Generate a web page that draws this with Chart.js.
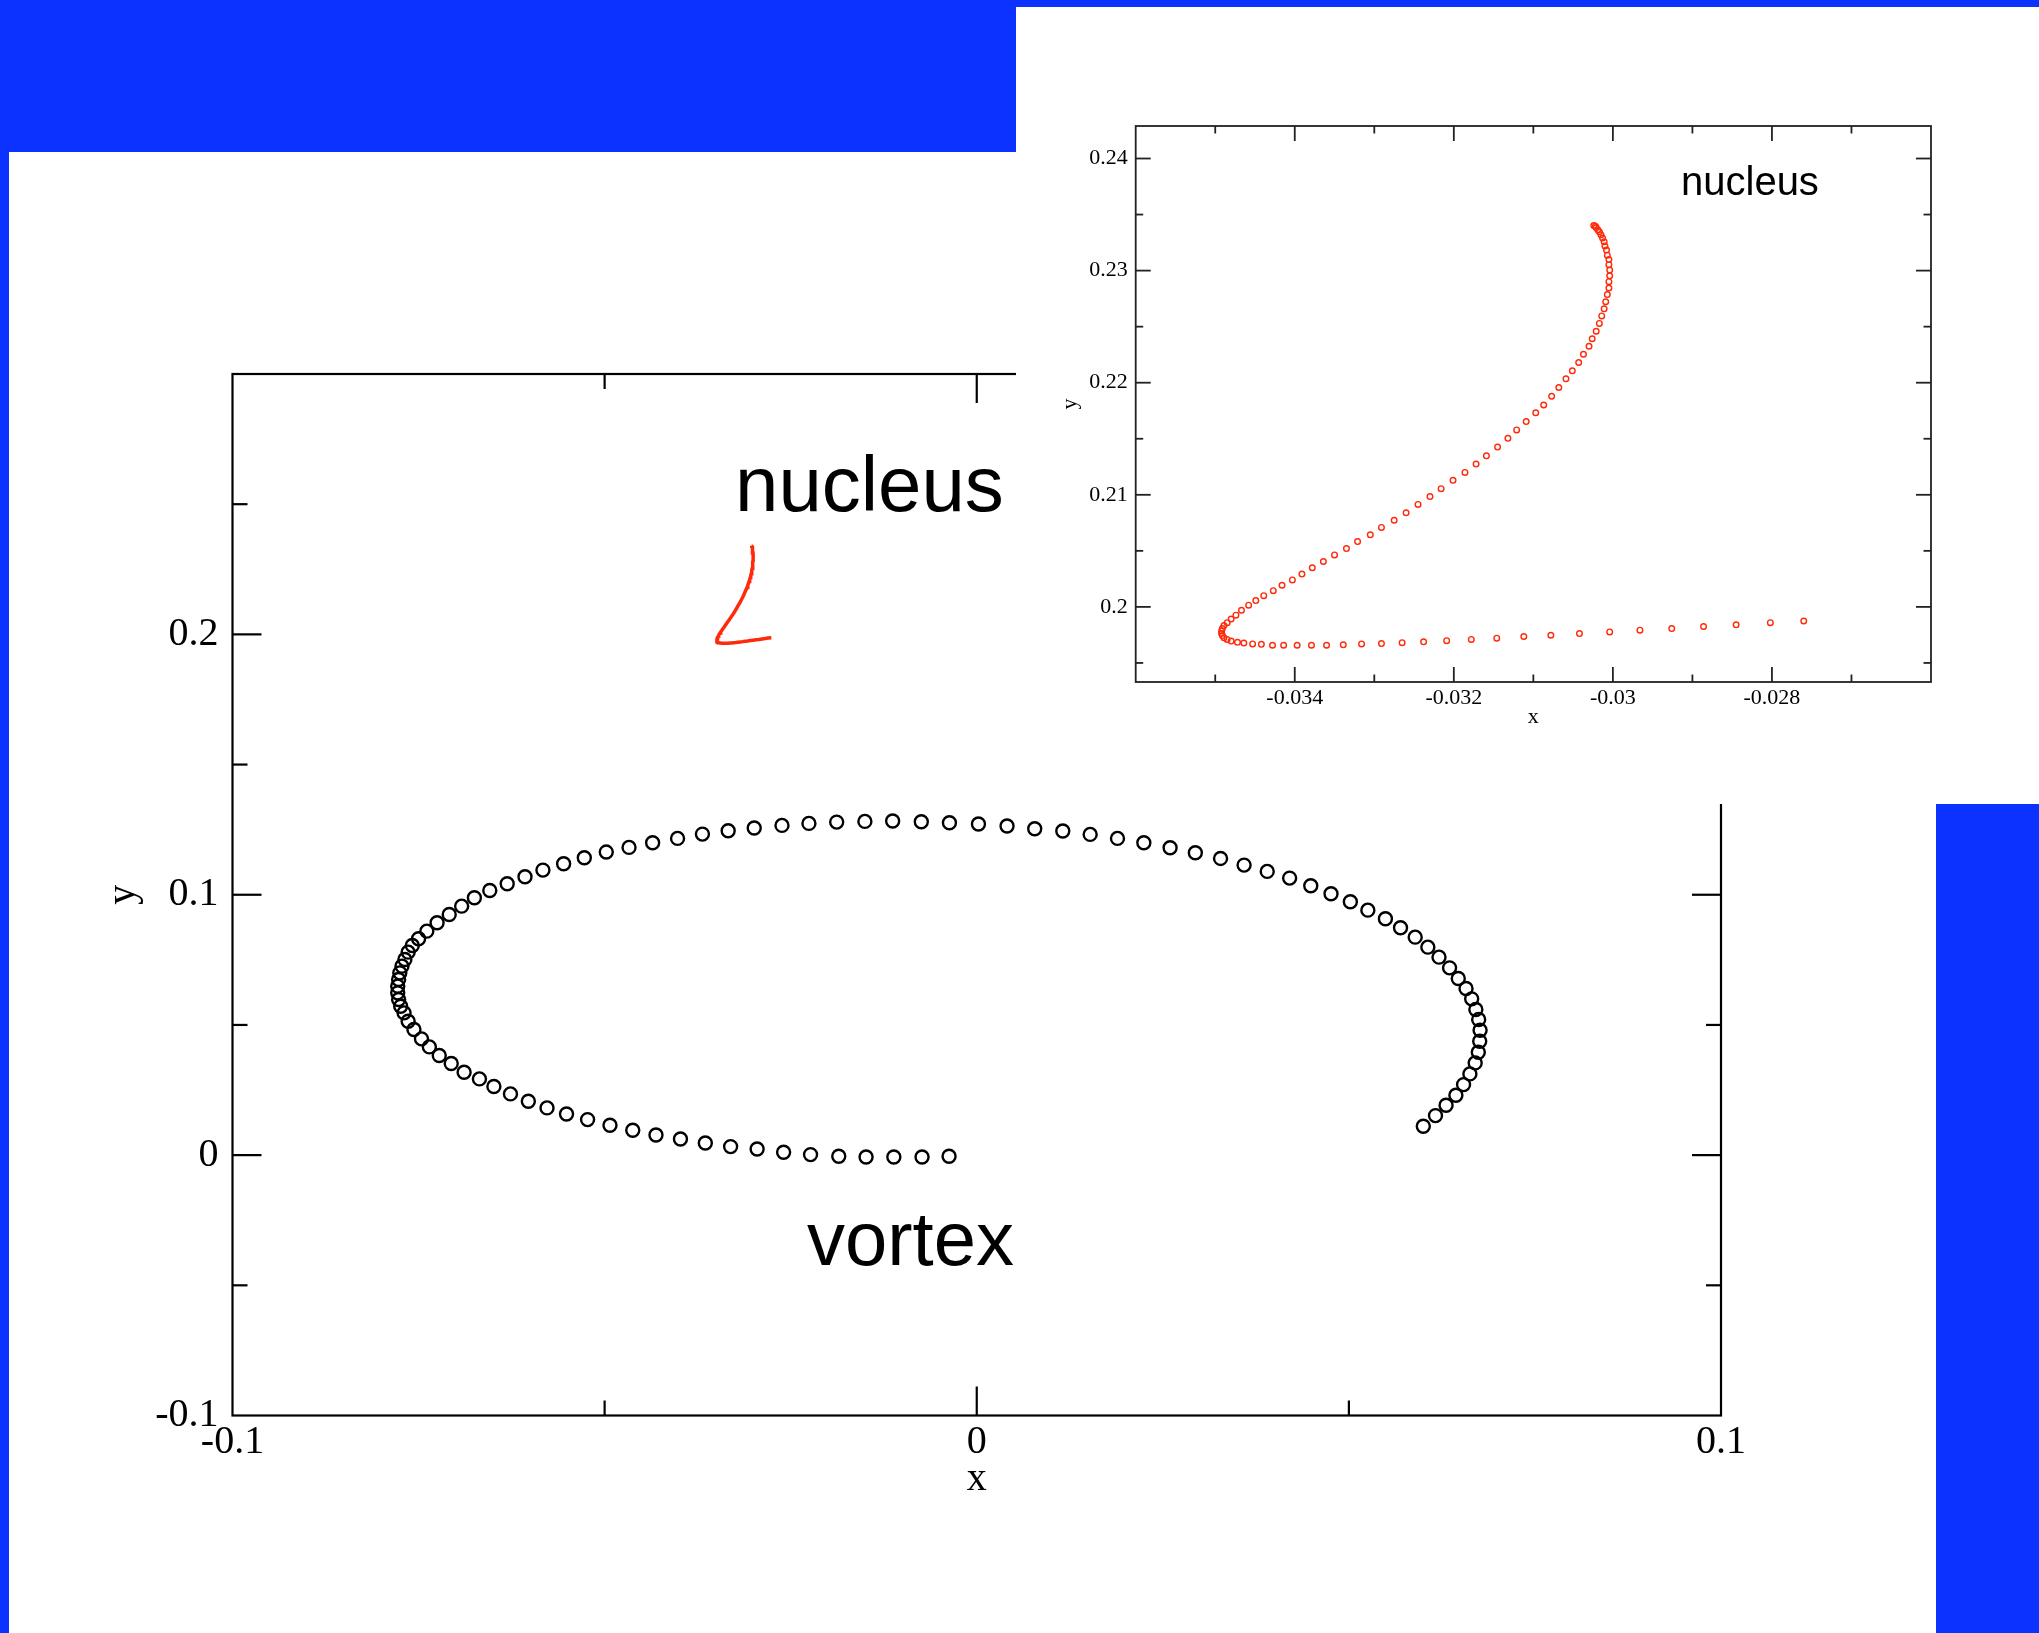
<!DOCTYPE html>
<html>
<head>
<meta charset="utf-8">
<script src="https://cdn.jsdelivr.net/npm/chart.js@4.4.1/dist/chart.umd.min.js"></script>
<style>
  body { margin: 0; width: 2039px; height: 1633px; background: #fff; position: relative; overflow: hidden; }
  .blue { position: absolute; background: #0c32ff; }
  #insetBox { position: absolute; left: 1016px; top: 0; width: 1023px; height: 804px; background: #fff; }
  canvas { position: absolute; left: 0; top: 0; }
</style>
</head>
<body>
<canvas id="mainChart" width="2039" height="1510"></canvas>
<div id="insetBox"><canvas id="insetChart" width="1023" height="740"></canvas></div>
<div class="blue" style="left:0;top:0;width:2039px;height:7px"></div>
<div class="blue" style="left:0;top:0;width:1016px;height:152px"></div>
<div class="blue" style="left:0;top:0;width:9px;height:1633px"></div>
<div class="blue" style="left:1936px;top:804px;width:103px;height:829px"></div>
<script>
// vortex trajectory (main panel, black open circles)
var vortexX = [-0.00372,-0.00735,-0.01114,-0.01487,-0.01854,-0.02233,-0.02595,-0.02951,-0.03307,-0.03647,
  -0.03981,-0.04310,-0.04622,-0.04928,-0.05229,-0.05512,-0.05774,-0.06025,-0.06265,-0.06488,
  -0.06682,-0.06888,-0.07061,-0.07222,-0.07355,-0.07461,-0.07562,-0.07640,-0.07695,-0.07740,
  -0.07768,-0.07780,-0.07780,-0.07768,-0.07752,-0.07723,-0.07684,-0.07640,-0.07584,-0.07500,
  -0.07389,-0.07251,-0.07088,-0.06921,-0.06750,-0.06543,-0.06309,-0.06070,-0.05829,-0.05551,
  -0.05273,-0.04978,-0.04672,-0.04355,-0.04020,-0.03686,-0.03340,-0.02990,-0.02617,-0.02255,
  -0.01882,-0.01503,-0.01130,-0.00745,-0.00367,0.00023,
  0.00407,0.00779,0.01156,0.01524,0.01891,0.02245,0.02598,0.02937,0.03276,0.03592,
  0.03903,0.04204,0.04488,0.04760,0.05020,0.05255,0.05491,0.05694,0.05891,0.06061,
  0.06211,0.06353,0.06470,0.06574,0.06650,0.06706,0.06744,0.06763,0.06758,0.06739,
  0.06697,0.06626,0.06541,0.06438,0.06306,0.06164,0.06000];
var vortexY = [-0.00045,-0.00070,-0.00070,-0.00070,-0.00045,0.00020,0.00110,0.00237,0.00327,0.00468,
  0.00621,0.00775,0.00954,0.01147,0.01364,0.01582,0.01813,0.02069,0.02351,0.02633,
  0.02927,0.03183,0.03517,0.03824,0.04157,0.04465,0.04823,0.05143,0.05464,0.05720,
  0.05976,0.06233,0.06489,0.06745,0.07001,0.07257,0.07514,0.07795,0.08052,0.08308,
  0.08602,0.08923,0.09243,0.09563,0.09884,0.10165,0.10422,0.10691,0.10947,0.11190,
  0.11421,0.11639,0.11818,0.11997,0.12164,0.12330,0.12458,0.12561,0.12663,0.12740,
  0.12791,0.12817,0.12830,0.12804,0.12766,0.12715,
  0.12638,0.12535,0.12446,0.12318,0.12164,0.11997,0.11805,0.11613,0.11395,0.11139,
  0.10896,0.10639,0.10345,0.10037,0.09730,0.09409,0.09077,0.08731,0.08372,0.07987,
  0.07603,0.07193,0.06783,0.06399,0.06002,0.05592,0.05208,0.04797,0.04375,0.03952,
  0.03542,0.03120,0.02709,0.02300,0.01915,0.01518,0.01108];

// nucleus trajectory (red: line in main panel, open circles in inset)
var nucleusX = [-0.02760,-0.02802,-0.02845,-0.02886,-0.02926,-0.02966,-0.03004,-0.03042,-0.03078,-0.03112,
  -0.03146,-0.03178,-0.03209,-0.03238,-0.03265,-0.03291,-0.03316,-0.03339,-0.03360,-0.03379,
  -0.03397,-0.03414,-0.03428,-0.03442,-0.03453,-0.03464,-0.03472,-0.03480,-0.03485,-0.03489,
  -0.03491,-0.03492,-0.03492,-0.03491,-0.03489,-0.03485,-0.03480,-0.03474,-0.03467,-0.03458,
  -0.03449,-0.03439,-0.03427,-0.03416,-0.03403,-0.03391,-0.03378,-0.03364,-0.03350,-0.03335,
  -0.03321,-0.03305,-0.03291,-0.03275,-0.03260,-0.03245,-0.03230,-0.03216,-0.03201,-0.03186,
  -0.03172,-0.03159,-0.03145,-0.03132,-0.03121,-0.03109,-0.03097,-0.03087,-0.03077,-0.03068,
  -0.03059,-0.03051,-0.03043,-0.03037,-0.03030,-0.03026,-0.03021,-0.03017,-0.03014,-0.03011,
  -0.03009,-0.03007,-0.03005,-0.03005,-0.03004,-0.03004,-0.03005,-0.03005,-0.03007,-0.03008,
  -0.03010,-0.03011,-0.03013,-0.03015,-0.03017,-0.03019,-0.03021,-0.03022,-0.03024];
var nucleusY = [0.19874,0.19859,0.19840,0.19825,0.19807,0.19792,0.19777,0.19762,0.19747,0.19736,
  0.19721,0.19710,0.19699,0.19688,0.19681,0.19673,0.19670,0.19662,0.19658,0.19658,
  0.19658,0.19658,0.19658,0.19666,0.19670,0.19677,0.19684,0.19695,0.19710,0.19725,
  0.19744,0.19762,0.19785,0.19807,0.19833,0.19859,0.19892,0.19926,0.19970,0.20015,
  0.20056,0.20100,0.20145,0.20193,0.20241,0.20293,0.20349,0.20405,0.20464,0.20520,
  0.20583,0.20643,0.20709,0.20773,0.20839,0.20914,0.20984,0.21055,0.21129,0.21200,
  0.21274,0.21348,0.21426,0.21504,0.21579,0.21653,0.21731,0.21801,0.21879,0.21957,
  0.22035,0.22106,0.22180,0.22254,0.22325,0.22392,0.22459,0.22529,0.22596,0.22659,
  0.22722,0.22786,0.22845,0.22901,0.22953,0.23005,0.23053,0.23098,0.23138,0.23183,
  0.23220,0.23257,0.23291,0.23320,0.23346,0.23365,0.23384,0.23395,0.23402];

// axis ranges
var mainXRange = [-0.1, 0.1], mainYRange = [-0.1, 0.3];
var insetXRange = [-0.036, -0.026], insetYRange = [0.1933, 0.2429];

var red = '#ff2a0a';

function pts(xs, ys) {
  return xs.map(function (x, i) { return { x: x, y: ys[i] }; });
}
function isMult(v, step) {
  var r = v / step;
  return Math.abs(r - Math.round(r)) < 1e-6;
}
function fmt(v) {
  var r = Math.round(v * 1000) / 1000;
  return r === 0 ? '0' : String(r);
}

// box frame with inward ticks on all four sides
function frameTicks(o) {
  return {
    id: 'frameTicks',
    afterDraw: function (chart) {
      var ctx = chart.ctx, a = chart.chartArea, sx = chart.scales.x, sy = chart.scales.y;
      ctx.save();
      ctx.strokeStyle = o.color;
      ctx.lineWidth = o.width;
      function seg(x1, y1, x2, y2) { ctx.beginPath(); ctx.moveTo(x1, y1); ctx.lineTo(x2, y2); ctx.stroke(); }
      sx.ticks.forEach(function (t) {
        var p = sx.getPixelForValue(t.value);
        if (p <= a.left + 1 || p >= a.right - 1) return;
        var len = isMult(t.value, o.majorX) ? o.major : o.minor;
        seg(p, a.bottom, p, a.bottom - len);
        seg(p, a.top, p, a.top + len);
      });
      sy.ticks.forEach(function (t) {
        var p = sy.getPixelForValue(t.value);
        if (p <= a.top + 1 || p >= a.bottom - 1) return;
        var len = isMult(t.value, o.majorY) ? o.major : o.minor;
        seg(a.left, p, a.left + len, p);
        seg(a.right, p, a.right - len, p);
      });
      ctx.strokeRect(a.left, a.top, a.right - a.left, a.bottom - a.top);
      ctx.restore();
    }
  };
}

function notes(list) {
  return {
    id: 'notes',
    afterDraw: function (chart) {
      var ctx = chart.ctx;
      ctx.save();
      ctx.fillStyle = '#000';
      ctx.textBaseline = 'alphabetic';
      ctx.textAlign = 'left';
      list.forEach(function (n) {
        ctx.font = n.size + 'px "Liberation Sans", Arial, sans-serif';
        ctx.fillText(n.text, n.x, n.y);
      });
      ctx.restore();
    }
  };
}

function axis(range, step, major, fontSize, pad, title, titlePad, fitSize, horizontal, hideVals) {
  return {
    type: 'linear', min: range[0], max: range[1],
    grid: { display: false, drawTicks: false },
    border: { display: false },
    ticks: {
      stepSize: step, autoSkip: false, maxRotation: 0, includeBounds: false,
      padding: pad, color: '#000',
      font: { family: '"Liberation Serif", "Times New Roman", serif', size: fontSize },
      callback: function (v) {
        if (!isMult(v, major)) return '';
        for (var i = 0; i < hideVals.length; i++) if (Math.abs(v - hideVals[i]) < 1e-9) return '';
        return fmt(v);
      }
    },
    title: {
      display: true, text: title, color: '#000', padding: titlePad,
      font: { family: '"Liberation Serif", "Times New Roman", serif', size: fontSize }
    },
    afterFit: function (s) { if (horizontal) s.height = fitSize; else s.width = fitSize; }
  };
}

Chart.defaults.animation = false;

new Chart(document.getElementById('mainChart'), {
  type: 'scatter',
  data: {
    datasets: [{
      label: 'vortex',
      data: pts(vortexX, vortexY),
      pointStyle: 'circle', pointRadius: 6.5, borderWidth: 2.4,
      borderColor: '#000', backgroundColor: 'rgba(0,0,0,0)', showLine: false
    }, {
      label: 'nucleus',
      data: pts(nucleusX, nucleusY),
      showLine: true, pointRadius: 0, borderWidth: 3.5, borderColor: red,
      backgroundColor: red, tension: 0
    }]
  },
  options: {
    responsive: false, events: [],
    layout: { padding: { top: 374, right: 318, left: 0, bottom: 0 } },
    plugins: { legend: { display: false }, tooltip: { enabled: false } },
    scales: {
      x: axis(mainXRange, 0.05, 0.1, 40, 3, 'x', { top: 0, bottom: 7 }, 94.5, true, []),
      y: axis(mainYRange, 0.05, 0.1, 40, 14, 'y', { top: 99, bottom: 0 }, 232.5, false, [0.3])
    }
  },
  plugins: [
    frameTicks({ color: '#000', width: 2.2, major: 29, minor: 15, majorX: 0.1, majorY: 0.1 }),
    notes([{ text: 'nucleus', x: 735, y: 511, size: 78 }, { text: 'vortex', x: 807, y: 1265, size: 76 }])
  ]
});

new Chart(document.getElementById('insetChart'), {
  type: 'scatter',
  data: {
    datasets: [{
      label: 'nucleus',
      data: pts(nucleusX, nucleusY),
      pointStyle: 'circle', pointRadius: 2.8, borderWidth: 1.4,
      borderColor: red, backgroundColor: 'rgba(0,0,0,0)', showLine: false
    }]
  },
  options: {
    responsive: false, events: [],
    layout: { padding: { top: 126, right: 108, left: 0, bottom: 0 } },
    plugins: { legend: { display: false }, tooltip: { enabled: false } },
    scales: {
      x: axis(insetXRange, 0.001, 0.002, 22, 3, 'x', { top: 0, bottom: 10 }, 58, true, [-0.036, -0.026]),
      y: axis(insetYRange, 0.005, 0.01, 22, 8, 'y', { top: 41, bottom: 0 }, 119.7, false, [])
    }
  },
  plugins: [
    frameTicks({ color: '#222', width: 1.8, major: 15, minor: 7.5, majorX: 0.002, majorY: 0.01 }),
    notes([{ text: 'nucleus', x: 665, y: 195, size: 40 }])
  ]
});
</script>
</body>
</html>
